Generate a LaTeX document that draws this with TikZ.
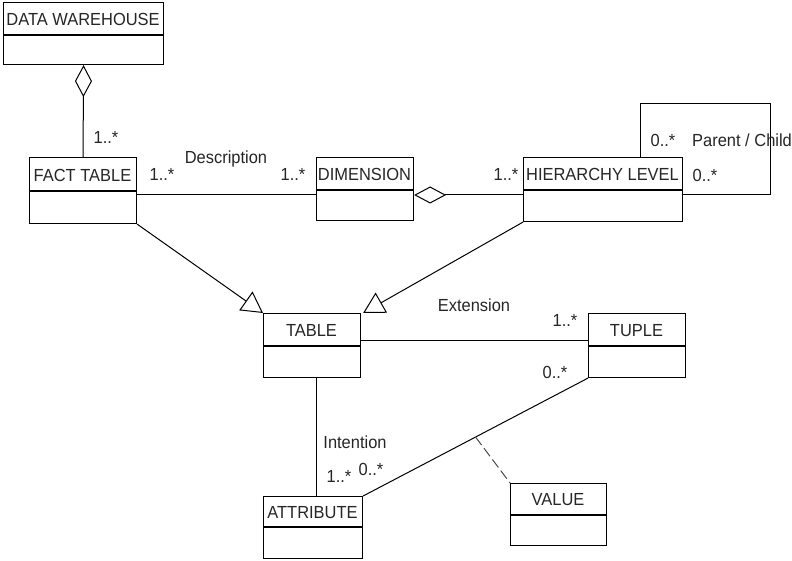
\documentclass[tikz,border=0pt]{standalone}
\usepackage{fontspec}
\setmainfont[FakeStretch=0.94]{Liberation Sans}
\usetikzlibrary{arrows.meta}
\newcommand{\umlclass}[7]{%
  \node[box, minimum width={#4-#2}, minimum height={#5-#3}] (#1) at (#2,#3) {};
  \draw[boxline] (#2,#6) -- (#4,#6);
  \node[lbl] (#1-t) at ({(#2+#4)/2},{(#3+#6)/2+1}) {#7};
}
\begin{document}
\begin{tikzpicture}[x=1pt,y=-1pt,
  box/.style={draw, line width=1.1pt, rectangle, inner sep=0pt, anchor=north west},
  boxline/.style={line width=1.1pt},
  lbl/.style={font=\fontsize{17.5}{20}\selectfont, inner sep=0pt, text=black!85},
  con/.style={line width=1pt},
  agg/.style={con, {Diamond[open,length=32pt,width=17pt]}-},
  gen/.style={con, -{Triangle[open,length=21pt,width=23pt]}},
]
\useasboundingbox[fill=white] (0,0) rectangle (792,561);

\umlclass{dw}{3}{2}{163}{64}{35}{DATA WAREHOUSE}
\umlclass{fact}{29}{157}{136}{223}{191}{FACT TABLE}
\umlclass{dim}{316}{157}{413}{220}{190}{DIMENSION}
\umlclass{hier}{523}{157}{682}{221}{190}{HIERARCHY LEVEL}
\umlclass{table}{263}{313}{360}{377}{346}{TABLE}
\umlclass{tuple}{588}{313}{685}{377}{346}{TUPLE}
\umlclass{attr}{263}{496}{362}{558}{527}{ATTRIBUTE}
\umlclass{value}{510}{483}{606}{545}{515}{VALUE}

% aggregation data warehouse - fact table
\draw[agg] (dw.south) -- (fact.north);
\node[lbl] (m1) at (106,137) {1..*};

% fact table - dimension
\draw[con] (fact.east |- 0,195) -- (dim.west |- 0,195);
\node[lbl] (desc) at (226,159) {Description};
\node[lbl] (m2) at (162,174) {1..*};
\node[lbl] (m3) at (293,174) {1..*};

% dimension - hierarchy level
\draw[agg] (dim.east |- 0,195) -- (hier.west |- 0,195);
\node[lbl] (m4) at (506,174) {1..*};

% self association
\coordinate (l1) at (770,104);
\draw[con] (hier.north -| 640,0) |- (l1) |- (hier.east |- 0,195);
\node[lbl] (m5) at (663,140) {0..*};
\node[lbl, anchor=west] (pc) at (692,140) {Parent / Child};
\node[lbl] (m6) at (705,175) {0..*};

% generalizations
\draw[gen] (fact.south east) -- (table.north west);
\draw[gen] (hier.south west) -- ([xshift=2pt]table.north east);

% table - tuple
\draw[con] (table.east |- 0,340) -- (tuple.west |- 0,340);
\node[lbl] (ext) at (474,305) {Extension};
\node[lbl] (m7) at (565,320) {1..*};

% table - attribute
\draw[con] (table.south -| 316,0) -- (attr.north -| 316,0);
\node[lbl] (int) at (355,442) {Intention};
\node[lbl] (m8) at (339,476) {1..*};

% attribute - tuple with association class
\draw[con] (attr.north east) -- coordinate[pos=0.5] (mid) (tuple.south west);
\draw[con, black!70, dash pattern=on 10pt off 4pt] (mid) -- (value.north west);
\node[lbl] (m9) at (371,469) {0..*};
\node[lbl] (m10) at (555,372) {0..*};
\end{tikzpicture}
\end{document}
